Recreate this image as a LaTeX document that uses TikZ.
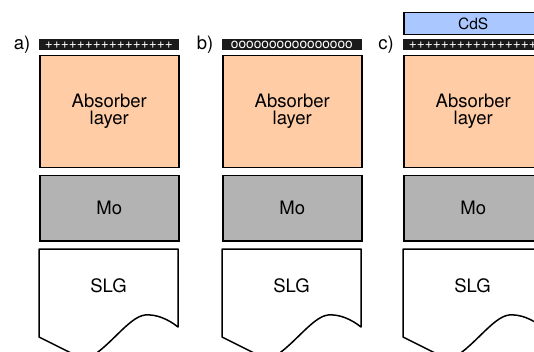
\documentclass[tikz,border=0pt]{standalone}
\usepackage{fontspec}
\setmainfont{TeX Gyre Heros}
\begin{document}
\begin{tikzpicture}[x=1pt,y=-1pt,
  layer/.style={draw=black,line width=1.5pt,minimum width=139pt,inner sep=0pt,anchor=north west,align=center,font=\fontsize{18.5}{20}\selectfont},
  absorber/.style={layer,fill=absorbfill,minimum height=112pt},
  molayer/.style={layer,fill=mofill,minimum height=65pt},
  cdslayer/.style={layer,fill=cdsfill,minimum height=22pt,font=\fontsize{15.5}{16}\selectfont},
  chargebar/.style={draw=barfill,line width=0.8pt,fill=barfill,minimum width=139pt,minimum height=10pt,inner sep=0pt,anchor=north west,text=white,text height=7.5pt,text depth=0pt,font=\fontsize{13.7}{10}\selectfont},
  slgline/.style={draw=black,line width=1.5pt,fill=white,line join=round},
  slgtext/.style={font=\fontsize{18.5}{20}\selectfont},
  plabel/.style={font=\fontsize{18.5}{20}\selectfont,inner sep=0pt}]
\definecolor{absorbfill}{RGB}{255,204,166}
\definecolor{mofill}{RGB}{179,179,179}
\definecolor{cdsfill}{RGB}{170,200,255}
\definecolor{barfill}{RGB}{26,26,26}
\clip (0,0) rectangle (534,352);
\fill[white] (0,0) rectangle (534,352);
\foreach \L/\lab/\sym/\nm in {39/a)/+/A, 222/b)/o/B, 403/c)/+/C}{
  \node[plabel] (lab\nm) at (\L-17,45) {\lab};
  \node[chargebar] (bar\nm) at (\L,39) {\sym\sym\sym\sym\sym\sym\sym\sym\sym\sym\sym\sym\sym\sym\sym\sym};
  \node[absorber] (abs\nm) at (\L,55) {Absorber\\[-3pt]layer};
  \node[molayer] (mo\nm) at (\L,175) {Mo};
  \draw[slgline] (\L,249) -- (\L+139,249) -- (\L+139,327)
     .. controls (\L+129,319) and (\L+117,314) .. (\L+106,315)
     .. controls (\L+89,317) and (\L+69,350) .. (\L+46,360)
     -- (\L,337) -- cycle;
  \node[slgtext] (slg\nm) at (\L+69.5,286) {SLG};
}
\node[cdslayer] (cds) at (403,12) {CdS};
\end{tikzpicture}
\end{document}
